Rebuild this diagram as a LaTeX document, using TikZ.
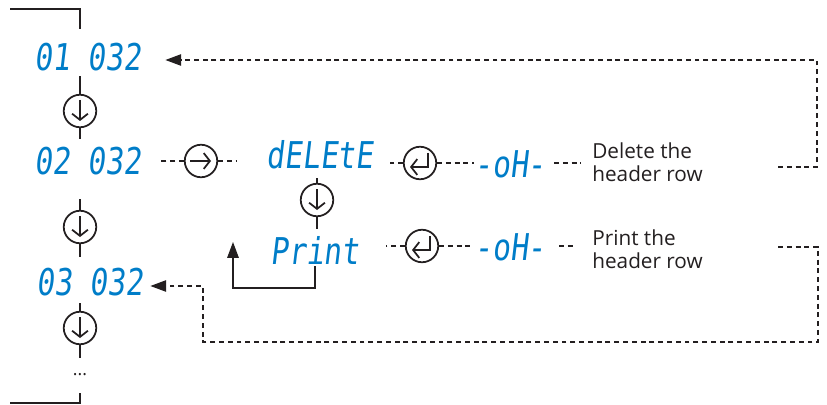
\documentclass[tikz,border=0pt]{standalone}
\usepackage{fontspec}
\setmainfont{Open Sans}
\newfontfamily\segfont[FakeSlant=0.12,FakeStretch=0.8]{DejaVu Sans Mono}
\usetikzlibrary{arrows.meta,positioning}
\definecolor{lb}{RGB}{0,125,200}
\definecolor{dg}{RGB}{35,31,32}

\begin{document}
\begin{tikzpicture}[x=0.02cm, y=-0.02cm,
  seg/.style={text=lb, font=\segfont\fontsize{21}{21}\selectfont, inner sep=1pt},
  keyc/.style={draw=dg, circle, line width=1pt, minimum size=0.65cm, inner sep=0pt},
  lbl/.style={text=dg, font=\fontsize{11.8}{13}\selectfont, align=left, anchor=west, inner sep=0pt},
  sline/.style={draw=dg, line width=0.8pt},
  dline/.style={draw=dg, line width=0.8pt, dash pattern=on 2.8pt off 2.2pt},
  inarr/.style={draw=dg, line width=1pt, -{Straight Barb[length=3.5pt,width=9pt]}},
  arrow/.style={-{Triangle[length=9pt,width=6.5pt]}}
]
\useasboundingbox (0,0) rectangle (827,405);
% left column
\node[seg] (d1) at (88,57) {01 032};
\node[keyc] (k1) at (80,111) {};
\node[seg] (d2) at (88,161) {02 032};
\node[keyc] (k2) at (80,227) {};
\node[seg] (d3) at (90,282) {03 032};
\node[keyc] (k3) at (80,328) {};
\node[text=dg, inner sep=1pt] (dots) at (80,375) {...};
% submenu
\node[keyc] (r1) at (201,161) {};
\node[seg] (del) at (320,155) {dELEtE};
\node[keyc] (k4) at (317,200) {};
\node[seg] (prn) at (315,250) {Print};
\node[keyc] (e1) at (420,163) {};
\node[seg] (oh1) at (510,164) {-oH-};
\node[lbl] (t1) at (592,162) {Delete the\\header row};
\node[keyc] (e2) at (422,246) {};
\node[seg] (oh2) at (510,247) {-oH-};
\node[lbl] (t2) at (592,249) {Print the\\header row};
\coordinate (topL) at (10,9);
\coordinate (topR) at (80,29);
\coordinate (botL) at (10,403);
\coordinate (botR) at (80,393);
\coordinate (loopup) at (233,242);
\coordinate (ret1) at (778,167);
\coordinate (ret1c) at (817,60);
\coordinate (ret2) at (778,247);
\coordinate (ret2c) at (818,342);
\coordinate (ret2b) at (203,286);
% key symbols
\foreach \k in {k1,k2,k3,k4}
  \draw[inarr] ([shift={(0,-11)}]\k.center) -- ([shift={(0,10)}]\k.center);
\draw[inarr] ([shift={(-11,0)}]r1.center) -- ([shift={(10,0)}]r1.center);
\foreach \k in {e1,e2}
  \draw[inarr] ([shift={(8,-10)}]\k.center) -- ([shift={(8,4)}]\k.center) -- ([shift={(-10,4)}]\k.center);
% solid links
\draw[sline] (topL) -| (topR);
\draw[sline] (botL) -| (botR);
\draw[sline] (k1.north) -- ++(0,-18);
\draw[sline] (k1.south) -- ++(0,11);
\draw[sline] (k2.north) -- ++(0,-11);
\draw[sline] (k2.south) -- ++(0,13);
\draw[sline] (k3.north) -- ++(0,-8);
\draw[sline] (k3.south) -- ++(0,13);
\draw[sline] (k4.north) -- ++(0,-5);
\draw[sline] (k4.south) -- ++(0,12);
\draw[sline, arrow] (prn.south) -- ++(0,22) -| (loopup);
% dashed links
\draw[dline] (r1.west) -- ++(-25,0);
\draw[dline] (r1.east) -- ++(18,0);
\draw[dline] (e1.west) -- ++(-13,0);
\draw[dline] (e1.east) -- ++(37,0);
\draw[dline] (e1.east) ++(117,0) -- ++(27,0);
\draw[dline] (e2.west) -- ++(-19,0);
\draw[dline] (e2.east) -- ++(33,0);
\draw[dline] (e2.east) ++(120,0) -- ++(15,0);
% return paths
\draw[dline, arrow] (ret1) -| (ret1c) -- (ret1c -| d1.east) [shorten >=0.44cm];
\draw[dline, arrow] (ret2) -| (ret2c) -| (ret2b) -- (ret2b -| d3.east) [shorten >=0.1cm];
\end{tikzpicture}
\end{document}
